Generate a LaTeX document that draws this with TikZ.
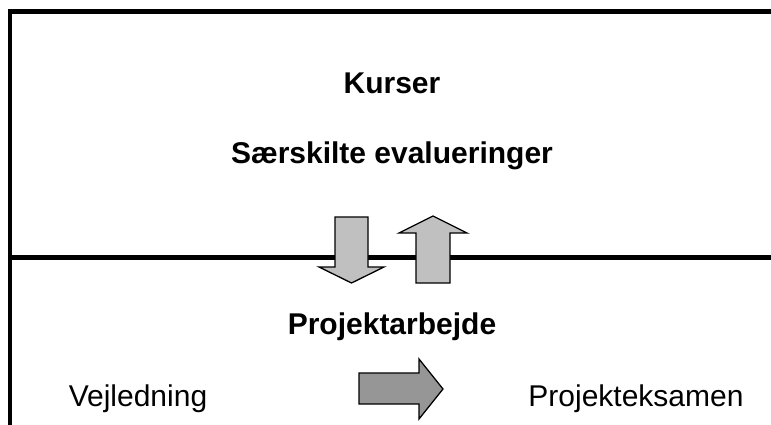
\documentclass[tikz,border=0pt]{standalone}
\usepackage{fontspec}
\setmainfont{Liberation Sans}
\usepackage{tikz}
\usepackage{color}
\usetikzlibrary{positioning, calc}
\definecolor{lightarrow}{RGB}{192,192,192}
\definecolor{darkarrow}{RGB}{150,150,150}
\begin{document}
\begin{tikzpicture}[x=1pt,y=-1pt,
                    frameline/.style={line width=4.4pt,line join=miter},
                    blockarrow/.style={draw,line width=1.3pt,line join=miter},
                    title/.style={anchor=base,font=\fontsize{30}{36}\selectfont\bfseries},
                    label/.style={anchor=base,font=\fontsize{30}{36}\selectfont}]
                    \useasboundingbox (0,0) rectangle (771,425);
                    \draw[frameline] (10,425) -- (10,11.5) -- (771,11.5);
                    \draw[frameline] (10,257.5) -- (771,257.5);
                    \node[title] (kurser) at (392,94) {Kurser};
                    \node[title] (evaluering) at (392,164) {Særskilte evalueringer};
                    \node[title] (projekt) at (392,334) {Projektarbejde};
                    \node[label] (vejledning) at (138,406) {Vejledning};
                    \node[label] (eksamen) at (636,406) {Projekteksamen};
                    \draw[blockarrow,fill=lightarrow] (335,217) -- (368,217) -- (368,267) -- (384,267) -- (351.5,283) -- (319,267) -- (335,267) -- cycle;
                    \draw[blockarrow,fill=lightarrow] (416,283) -- (416,233) -- (399,233) -- (433,216) -- (467,233) -- (450,233) -- (450,283) -- cycle;
                    \draw[blockarrow,fill=darkarrow] (359,373) -- (419,373) -- (419,359) -- (443,389) -- (419,419) -- (419,404) -- (359,404) -- cycle;
                \end{tikzpicture}
\end{document}
